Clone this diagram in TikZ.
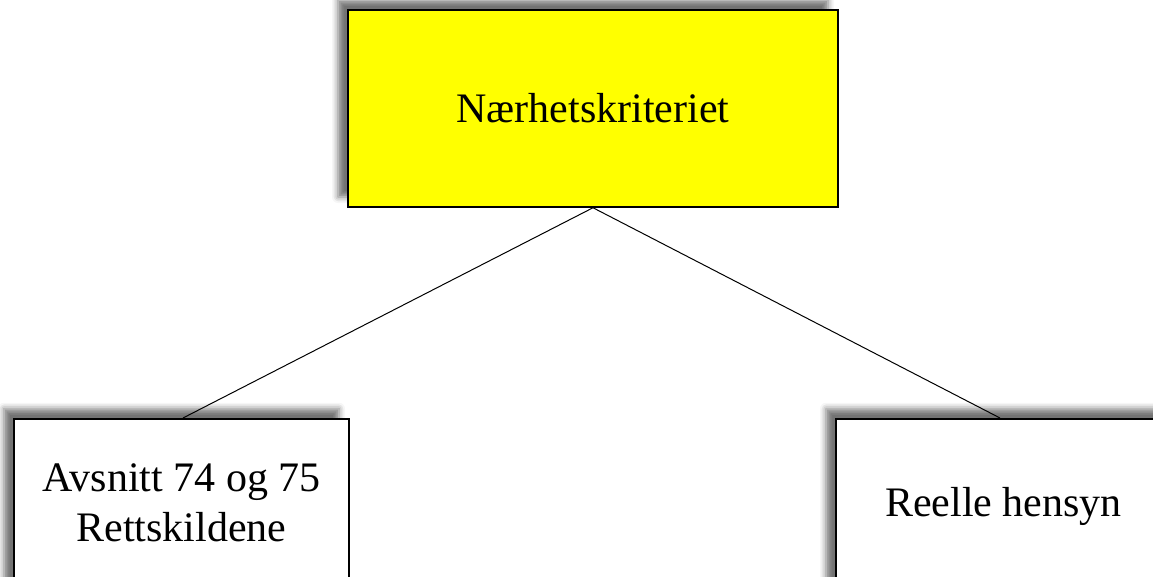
\documentclass[tikz,border=0pt]{standalone}
\usepackage{fontspec}
\setmainfont{Liberation Serif}
\usetikzlibrary{positioning, shadows.blur}
\definecolor{critfill}{RGB}{255,255,0}

\begin{document}
\begin{tikzpicture}[
    x=1pt, y=-1pt,
    font=\fontsize{42}{50}\selectfont,
    shade/.style={blur shadow={shadow xshift=-10pt, shadow yshift=10pt,
    shadow blur radius=6pt, shadow opacity=55}},
    topbox/.style={draw, line width=1.5pt, fill=critfill, shade, text centered,
    minimum height=197pt, minimum width=490pt, inner sep=0pt},
    block/.style={draw, line width=1.5pt, fill=white, shade, align=center,
    minimum height=175pt, minimum width=335pt, inner sep=0pt, anchor=north},
    link/.style={draw, line width=1pt}
    ]
    \useasboundingbox (0,0) rectangle (1153,577);
    \begin{scope}
    \clip (0,0) rectangle (1153,577);
    \node[topbox] (crit)  at (593,108.5)  {Nærhetskriteriet};
    \node[block]  (rett)  at (181.5,418)  {\raisebox{8pt}{\begin{tabular}{c}Avsnitt 74 og 75\\Rettskildene\end{tabular}}};
    \node[block]  (reel)  at (1003.5,418) {\raisebox{-10pt}{Reelle hensyn}};

    \path[link]
    (crit.south)  --  (183,418)
    (crit.south)  --  (1000,418)
    ;
    \end{scope}
\end{tikzpicture}
\end{document}
